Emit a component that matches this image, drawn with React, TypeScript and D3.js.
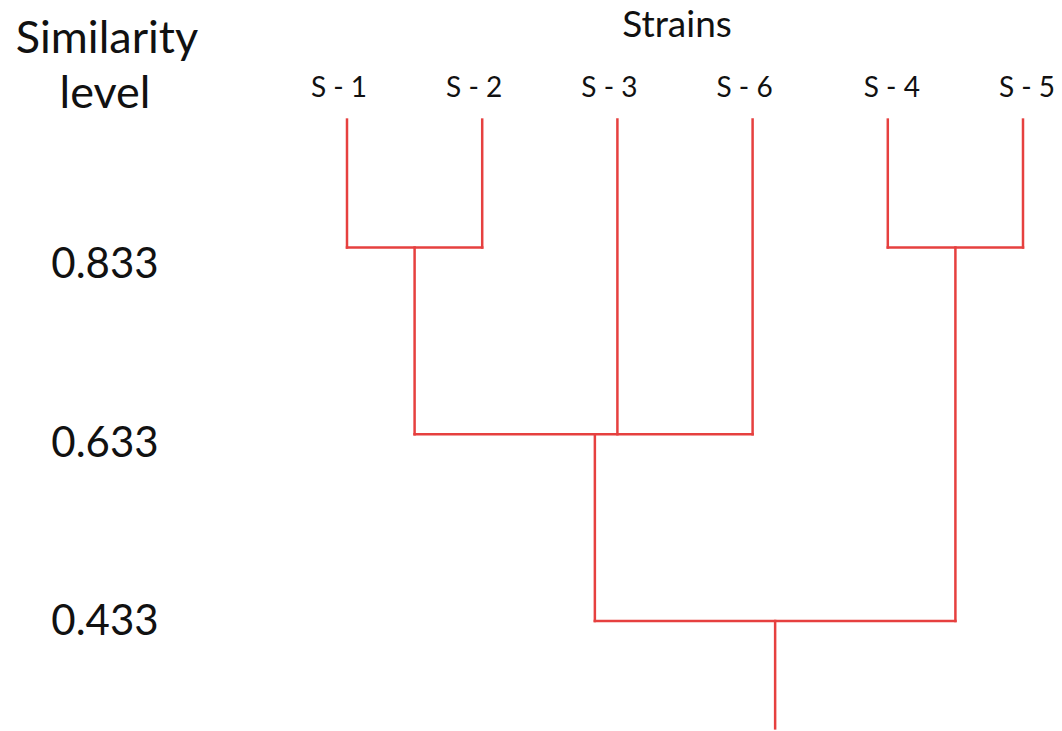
import React, { useEffect, useRef } from "react";
import * as d3 from "d3";

// leaves, left to right, in drawing order
const strains = ["S - 1", "S - 2", "S - 3", "S - 6", "S - 4", "S - 5"];

// similarity levels shown on the left
const levelTicks = [0.833, 0.633, 0.433];

// clusters: members can be strains or earlier clusters
const merges = [
    { id: "A", members: ["S - 1", "S - 2"], level: 0.833 },
    { id: "B", members: ["S - 4", "S - 5"], level: 0.833 },
    { id: "C", members: ["A", "S - 3", "S - 6"], level: 0.633 },
    { id: "D", members: ["C", "B"], level: 0.433 },
];

const leafLevel = 0.97;
const rootLevel = 0.318;

const W = 1062;
const H = 731;
const FONT = "Lato, 'Open Sans', sans-serif";
const RED = "#e6403f";

export default function App() {
    const ref = useRef<SVGSVGElement | null>(null);

    useEffect(() => {
        const svg = d3.select(ref.current);
        svg.selectAll("*").remove();

        const x = d3.scalePoint<string>().domain(strains).range([347, 1023]);
        const y = d3.scaleLinear().domain([0.833, 0.433]).range([247.5, 621]);
        // the level labels sit a little below their lines in the original
        const yLabel = d3.scaleLinear().domain([0.833, 0.433]).range([278, 635]);

        const pos: Record<string, { x: number; y: number }> = {};
        strains.forEach((s) => {
            pos[s] = { x: x(s) as number, y: y(leafLevel) };
        });

        const links: [number, number, number, number][] = [];
        merges.forEach((m) => {
            const kids = m.members.map((k) => pos[k]);
            const yy = y(m.level);
            const xx = d3.mean(kids, (k) => k.x) as number;
            kids.forEach((k) => links.push([k.x, k.y, k.x, yy]));
            links.push([d3.min(kids, (k) => k.x) as number, yy, d3.max(kids, (k) => k.x) as number, yy]);
            pos[m.id] = { x: xx, y: yy };
        });
        const root = pos[merges[merges.length - 1].id];
        links.push([root.x, root.y, root.x, y(rootLevel)]);

        svg.append("g")
            .selectAll("line")
            .data(links)
            .join("line")
            .attr("x1", (d) => d[0])
            .attr("y1", (d) => d[1])
            .attr("x2", (d) => d[2])
            .attr("y2", (d) => d[3])
            .attr("stroke", RED)
            .attr("stroke-width", 2.5)
            .attr("stroke-linecap", "square");

        // strain labels
        svg.append("g")
            .selectAll("text")
            .data(strains)
            .join("text")
            .attr("x", (d, i) => (x(d) as number) + (i < 4 ? -8 : 4))
            .attr("y", 97)
            .attr("text-anchor", "middle")
            .attr("font-family", FONT)
            .attr("font-size", 28)
            .attr("fill", "#111")
            .text((d) => d);

        svg.append("text")
            .attr("x", 677)
            .attr("y", 37)
            .attr("text-anchor", "middle")
            .attr("font-family", FONT)
            .attr("font-size", 37)
            .attr("fill", "#111")
            .text("Strains");

        const title = svg.append("text")
            .attr("text-anchor", "middle")
            .attr("font-family", FONT)
            .attr("font-size", 45)
            .attr("fill", "#111");
        title.append("tspan").attr("x", 107).attr("y", 53).text("Similarity");
        title.append("tspan").attr("x", 105).attr("y", 108).text("level");

        svg.append("g")
            .selectAll("text")
            .data(levelTicks)
            .join("text")
            .attr("x", 105)
            .attr("y", (d) => yLabel(d))
            .attr("text-anchor", "middle")
            .attr("font-family", FONT)
            .attr("font-size", 42)
            .attr("fill", "#111")
            .text((d) => d3.format(".3f")(d));
    }, []);

    return (
        <svg
            ref={ref}
            width={W}
            height={H}
            style={{ position: "absolute", left: 0, top: 0, background: "#fff" }}
        />
    );
}
